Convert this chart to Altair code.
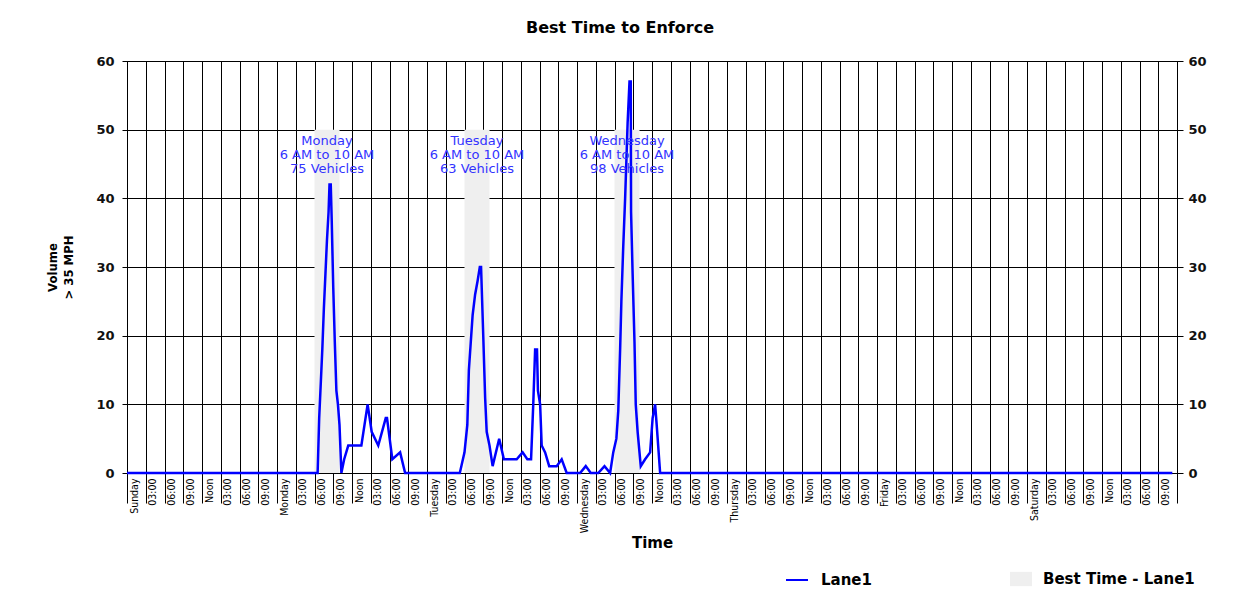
import altair as alt
import pandas as pd

# ---------------- data ----------------
day_names = ["Sunday", "Monday", "Tuesday", "Wednesday", "Thursday", "Friday", "Saturday"]
time_names = ["", "03:00", "06:00", "09:00", "Noon", "03:00", "06:00", "09:00"]

tick_hours = list(range(0, 169, 3))
tick_labels = []
for d in day_names:
    for i, t in enumerate(time_names):
        tick_labels.append(d if i == 0 else t)
tick_labels.append("")

line_hours = [
    0, 30.5, 30.75, 31.0, 31.25, 31.5, 31.75, 32.0, 32.25, 32.4, 32.6, 32.75, 33.0, 33.25,
    33.5, 33.75, 34.0, 34.3, 34.75, 35.4, 37.5, 38.5, 39.15, 40.2, 41.4, 41.6, 42.45, 43.7, 44.5,
    53.25, 54.0, 54.45, 54.7, 55.0, 55.3, 55.7, 56.1, 56.45, 56.65, 57.0, 57.3, 57.55, 58.0,
    58.5, 59.55, 60.3, 62.35, 63.3, 64.05, 64.65, 65.0, 65.3, 65.6, 65.75, 66.1, 66.35, 66.9,
    67.55, 68.75, 69.55, 70.35,
    72.5, 73.4, 74.2, 75.4, 76.4, 77.3, 77.8, 78.3, 78.6, 78.9, 79.1, 79.4, 79.7, 80.1, 80.4,
    80.6, 80.65, 80.9, 81.2, 81.4, 81.7, 82.2, 82.9, 83.7, 84.1, 84.5, 84.75, 85.3,
    167.25,
]
line_values = [
    0, 0, 8, 13, 18, 24, 29, 34, 38, 42, 42, 37, 27, 19,
    12, 10, 7, 0, 2, 4, 4, 10, 6, 4, 8, 8, 2, 3, 0,
    0, 3, 7, 15, 19, 23, 26, 28, 30, 30, 20, 11, 6, 4,
    1, 5, 2, 2, 3, 2, 2, 10, 18, 18, 12, 10, 4, 3,
    1, 1, 2, 0,
    0, 1, 0, 0, 1, 0, 3, 5, 9, 18, 25, 33, 40, 51, 57,
    57, 38, 29, 19, 10, 6, 1, 2, 3, 8, 10, 7, 0,
    0,
]
series_name = "Lane1"

band_day = ["Monday", "Tuesday", "Wednesday"]
band_start = [30, 54, 78]
band_end = [34, 58, 82]
band_top = [50, 50, 50]
band_window = ["6 AM to 10 AM", "6 AM to 10 AM", "6 AM to 10 AM"]
band_vehicles = [75, 63, 98]
band_name = "Best Time - Lane1"

line_df = pd.DataFrame({"hour": line_hours, "value": line_values, "series": series_name})
band_df = pd.DataFrame({
    "day": band_day, "start": band_start, "end": band_end, "top": band_top,
    "window": band_window, "vehicles": band_vehicles, "legend": band_name,
})
band_df["label"] = band_df["day"] + "\n" + band_df["window"] + "\n" + band_df["vehicles"].astype(str) + " Vehicles"

# ---------------- styles ----------------
NARROW = "Liberation Sans Narrow, DejaVu Sans Condensed, Liberation Sans, sans-serif"
WIDE = "DejaVu Sans, Verdana, sans-serif"

label_expr = "[" + ",".join("'" + s + "'" for s in tick_labels) + "][round(datum.value/3)]"

x_scale = alt.Scale(domain=[0, 168], nice=False, zero=False)
y_scale = alt.Scale(domain=[0, 60], nice=False)

x_axis = alt.Axis(
    values=tick_hours, labelExpr=label_expr, labelAngle=270, labelFont=NARROW,
    labelFontSize=10.5, labelColor="#000000", labelOffset=7, labelPadding=-25,
    labelOverlap=False, labelFlush=False, tickSize=30, tickColor="#000000", tickWidth=1,
    grid=True, gridColor="#000000", gridWidth=1, gridOpacity=1, domainColor="#000000",
    title="Time", titleFont=WIDE, titleFontSize=15, titleFontWeight="bold",
    titleColor="#000000", titleY=62,
)

y_left_axis = alt.Axis(
    values=[0, 10, 20, 30, 40, 50, 60], labelFont=WIDE, labelFontWeight="bold",
    labelFontSize=13, labelColor="#111111", labelPadding=8, tickSize=5, tickColor="#000000",
    grid=True, gridColor="#000000", gridWidth=1, gridOpacity=1, domainColor="#000000",
    title=["Volume", "> 35 MPH"], titleFont=NARROW, titleFontSize=13, titleFontWeight="bold",
    titleColor="#000000", titlePadding=20, titleLineHeight=16,
)

y_right_axis = alt.Axis(
    orient="right", values=[0, 10, 20, 30, 40, 50, 60], labelFont=WIDE, labelFontWeight="bold",
    labelFontSize=13, labelColor="#111111", labelPadding=5, tickSize=6, tickColor="#000000",
    grid=False, domainColor="#000000", title=None,
)

bands = alt.Chart(band_df).mark_rect(opacity=1).encode(
    x=alt.X("start:Q", scale=x_scale, axis=x_axis),
    x2="end:Q",
    y=alt.Y("top:Q", scale=y_scale, axis=y_left_axis),
    y2=alt.datum(0),
    fill=alt.Fill(
        "legend:N",
        scale=alt.Scale(domain=[band_name], range=["#efefef"]),
        legend=alt.Legend(
            title=None, orient="none", legendX=883, legendY=507,
            symbolType="M-1,-0.65H1V0.65H-1Z", symbolSize=484, symbolStrokeWidth=0,
            symbolOpacity=1, labelFont=WIDE, labelFontSize=15, labelFontWeight="bold",
            labelColor="#000000", labelOffset=11,
        ),
    ),
)

line = alt.Chart(line_df).mark_line(strokeWidth=2.5).encode(
    x=alt.X("hour:Q", scale=x_scale, axis=x_axis),
    y=alt.Y("value:Q", scale=y_scale, axis=y_right_axis),
    color=alt.Color(
        "series:N",
        scale=alt.Scale(domain=[series_name], range=["#0000ff"]),
        legend=alt.Legend(
            title=None, orient="none", legendX=658, legendY=507,
            symbolType="stroke", symbolSize=484, symbolStrokeWidth=2,
            labelFont=WIDE, labelFontSize=15, labelFontWeight="bold",
            labelColor="#000000", labelOffset=12,
        ),
    ),
)

texts = alt.Chart(band_df).transform_calculate(
    mid="(datum.start + datum.end) / 2"
).mark_text(
    font=WIDE, fontSize=13, color="#3333ff",
    lineBreak="\n", lineHeight=14, baseline="top", align="center", dy=5,
).encode(
    x=alt.X("mid:Q", scale=x_scale, axis=x_axis),
    y=alt.Y("top:Q", scale=y_scale, axis=None),
    text="label:N",
)

chart = alt.layer(bands, line, texts).resolve_scale(
    y="independent"
).properties(
    width=1050,
    height=412,
    padding={"left": 119, "top": 53, "right": 50, "bottom": 120},
    autosize=alt.AutoSizeParams(type="none"),
    title=alt.TitleParams(
        "Best Time to Enforce", font=WIDE, fontSize=16, fontWeight="bold",
        color="#000000", anchor="middle", offset=19, dx=-32,
    ),
).configure_view(
    stroke="#000000"
).configure_legend(
    padding=0, offset=0
)

chart.save("out.html", embed_options={"renderer": "svg", "actions": False})
